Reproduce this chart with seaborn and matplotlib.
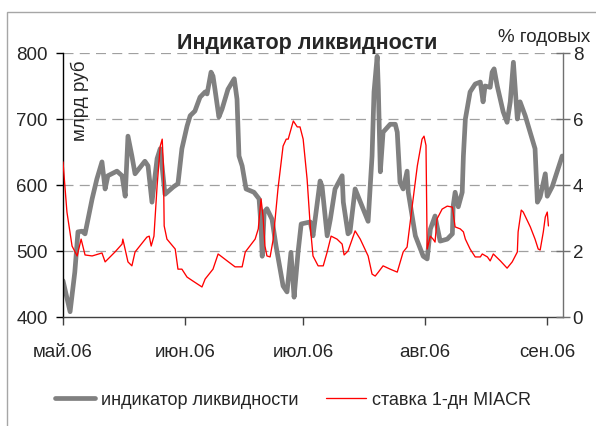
import numpy as np
import pandas as pd
import matplotlib
matplotlib.use("Agg")
import matplotlib.pyplot as plt
from matplotlib.patches import Rectangle
import seaborn as sns

# days counted from 1 May 2006
start_date = pd.Timestamp("2006-05-01")

liq_days = [0, 1.8, 3.0, 3.8, 4.8, 5.6, 7.4, 8.6, 9.9, 10.7, 11.4, 13.7, 15.0, 15.8, 16.5,
            17.5, 18.3, 20.8, 21.6, 22.6, 23.9, 24.7, 25.9, 28.0, 29.2, 30.2, 31.5, 32.3,
            33.5, 34.8, 36.1, 36.6, 37.6, 38.1, 38.6, 39.6, 40.4, 41.9, 43.5, 44.2, 44.7,
            45.5, 46.5, 48.5, 49.8, 50.3, 50.6, 51.1, 51.8, 53.1, 54.1, 55.9, 56.9, 57.9,
            58.5, 58.7, 59.7, 60.5, 62.8, 63.5, 65.3, 65.8, 67.1, 67.9, 69.1, 70.9, 71.2,
            72.4, 72.9, 74.2, 77.5, 78.5, 79.0, 79.8, 80.1, 80.6, 81.3, 83.1, 84.4, 84.9,
            85.6, 86.4, 87.4, 87.7, 89.5, 91.5, 92.5, 93.3, 94.5, 95.0, 95.8, 97.6, 98.9,
            99.1, 99.6, 100.4, 101.4, 101.7, 102.2, 103.4, 104.7, 106.0, 106.7, 107.2,
            108.5, 109.0, 109.5, 110.3, 111.8, 112.8, 113.6, 114.4, 115.4, 116.1, 117.4,
            119.9, 120.5, 121.2, 122.5, 123.0, 124.3, 126.8]
liq_values = [455, 408, 468, 529, 530, 526, 579, 609, 635, 594, 614, 621, 614, 583, 674,
              644, 617, 636, 629, 574, 640, 655, 586, 597, 602, 655, 689, 705,
              712, 733, 741, 738, 771, 765, 745, 703, 715, 745, 761, 730, 644,
              629, 594, 589, 579, 538, 492, 559, 564, 548, 508, 447, 438, 498,
              447, 430, 498, 541, 544, 523, 606, 598, 523, 548, 594, 614, 574,
              526, 529, 594, 545, 644, 741, 795, 745, 620, 680, 692, 692, 680,
              604, 594, 621, 589, 523, 492, 488, 533, 553, 538, 515, 518, 526,
              568, 589, 567, 589, 644, 700, 741, 753, 756, 726, 750,
              748, 771, 776, 750, 711, 695, 726, 786, 700, 726, 705,
              655, 574, 582, 617, 583, 598, 644]

rate_days = [0, 1.0, 2.3, 3.6, 4.6, 5.6, 7.4, 9.9, 10.7, 13.2, 15.0, 15.2, 16.5, 17.5,
             18.3, 21.3, 21.9, 22.4, 23.1, 23.9, 24.7, 25.2, 25.5, 25.7, 26.4, 28.5,
             29.2, 30.2, 31.5, 33.0, 35.3, 36.1, 38.1, 39.4, 41.7, 43.7, 45.5, 46.3,
             48.8, 49.6, 50.3, 50.8, 51.3, 51.8, 52.6, 53.4, 54.6, 55.9, 56.7, 57.2,
             58.5, 59.5, 60.2, 61.0, 62.0, 62.8, 63.5, 64.8, 66.1, 67.1, 68.1, 69.6,
             70.9, 71.4, 72.4, 74.2, 75.5, 77.5, 78.5, 79.3, 80.1, 81.3, 83.1, 84.9,
             86.4, 87.4, 88.7, 90.0, 91.2, 91.7, 92.2, 92.5, 93.3, 94.0, 94.5, 95.0,
             96.3, 97.6, 98.9, 99.6, 100.9, 101.7, 102.2, 103.4, 104.7, 106.0, 106.5,
             107.8, 108.5, 109.3, 111.1, 112.8, 114.1, 115.4, 115.6, 116.4, 116.9,
             118.7, 119.9, 120.7, 121.2, 122.0, 122.5, 123.0, 123.3]
rate_values = [4.70, 3.18, 2.15, 1.85, 2.36, 1.88, 1.85, 1.94, 1.67, 1.97, 2.21, 2.36, 1.67, 1.55,
               1.97, 2.42, 2.45, 2.15, 2.45, 3.97, 5.18, 5.39, 4.58, 2.76, 2.36, 2.06,
               1.45, 1.45, 1.21, 1.09, 0.91, 1.15, 1.45, 1.91, 1.70, 1.52, 1.52, 1.97,
               2.36, 2.67, 3.58, 3.06, 2.15, 1.85, 1.82, 2.36, 3.88, 5.18, 5.39, 5.39,
               5.94, 5.76, 5.76, 5.39, 4.18, 2.76, 1.85, 1.55, 1.55, 1.97, 2.45, 2.36,
               2.21, 1.88, 2.00, 2.61, 2.36, 1.85, 1.30, 1.24, 1.36, 1.55, 1.45, 1.36,
               1.97, 2.12, 3.36, 4.58, 5.39, 5.48, 5.20, 2.06, 2.45, 2.36, 2.27, 2.97,
               3.27, 3.36, 3.33, 2.73, 2.67, 2.58, 2.36, 2.06, 1.82, 1.82, 1.91,
               1.82, 1.70, 1.91, 1.70, 1.48, 1.67, 1.97, 2.58, 3.24, 3.18,
               2.73, 2.36, 2.06, 2.03, 2.58, 3.03, 3.18, 2.76]

month_ticks = ["2006-05-01", "2006-06-01", "2006-07-01", "2006-08-01", "2006-09-01"]
month_labels = ["май.06", "июн.06", "июл.06", "авг.06", "сен.06"]
left_ticks = [400, 500, 600, 700, 800]
right_ticks = [0, 2, 4, 6, 8]

liq_df = pd.DataFrame({"date": start_date + pd.to_timedelta(liq_days, unit="D"),
                       "value": liq_values})
rate_df = pd.DataFrame({"date": start_date + pd.to_timedelta(rate_days, unit="D"),
                        "value": rate_values})

sns.set_style("white")
plt.rcParams["font.family"] = ["Liberation Sans", "DejaVu Sans"]
plt.rcParams["font.size"] = 13

fig = plt.figure(figsize=(5.96, 4.27), dpi=100)
ax = fig.add_axes([63 / 596, 1 - 318 / 427, 500 / 596, 264 / 427])
ax2 = ax.twinx()

# outer frame of the chart area
fig.patches.append(Rectangle((7 / 596, -0.1), 1.2, 1 - 13 / 427 + 0.1,
                             transform=fig.transFigure, fill=False,
                             edgecolor="#a6a6a6", linewidth=1.0))

sns.lineplot(data=liq_df, x="date", y="value", ax=ax, color="#808080",
             linewidth=3.4, label="индикатор ликвидности", legend=False,
             solid_joinstyle="round", solid_capstyle="round")
sns.lineplot(data=rate_df, x="date", y="value", ax=ax2, color="#ff0000",
             linewidth=0.95, label="ставка 1-дн MIACR", legend=False)

ax.set_xlim(start_date, pd.Timestamp("2006-09-05"))
ax.set_ylim(400, 800)
ax2.set_ylim(0, 8)
ax.set_xticks(pd.to_datetime(month_ticks))
ax.set_xticklabels(month_labels)
ax.set_yticks(left_ticks)
ax2.set_yticks(right_ticks)
ax.set_xlabel("")
ax.set_ylabel("")
ax2.set_ylabel("")

for y in left_ticks[1:]:
    ax.axhline(y, color="#a0a0a0", linewidth=0.9, dashes=(8, 5), zorder=0)

for sp in ["top", "right"]:
    ax.spines[sp].set_visible(False)
for sp in ["top", "left", "bottom"]:
    ax2.spines[sp].set_visible(False)
ax.spines["left"].set_color("black")
ax.spines["bottom"].set_color("#404040")
ax2.spines["right"].set_color("#707070")
for sp in [ax.spines["left"], ax.spines["bottom"], ax2.spines["right"]]:
    sp.set_linewidth(1.0)

ax.tick_params(axis="y", direction="out", length=5, width=1, color="black", pad=6,
               left=True, labelsize=13.5)
ax.tick_params(axis="x", direction="out", length=6, width=1, color="#404040", pad=13,
               bottom=True, labelsize=13.5)
ax2.tick_params(axis="y", direction="inout", length=10, width=1, color="#707070", pad=2,
                right=True, labelsize=13.5)

ax.text(0.034, 0.977, "млрд руб", transform=ax.transAxes, rotation=90,
        ha="center", va="top", fontsize=13.5)
fig.text(307 / 596, 1 - 43 / 427, "Индикатор ликвидности", ha="center", va="center",
         fontsize=15.5, fontweight="bold")
fig.text(590 / 596, 1 - 37 / 427, "% годовых", ha="right", va="center", fontsize=13.5)

handles = ax.get_lines()[:1] + ax2.get_lines()[:1]
fig.legend(handles, [h.get_label() for h in handles], loc="center",
           bbox_to_anchor=(293 / 596, 1 - 401 / 427), ncol=2, frameon=False, fontsize=13,
           handlelength=2.2, handletextpad=0.35, columnspacing=1.5)

fig.savefig("out.png", dpi=100)
